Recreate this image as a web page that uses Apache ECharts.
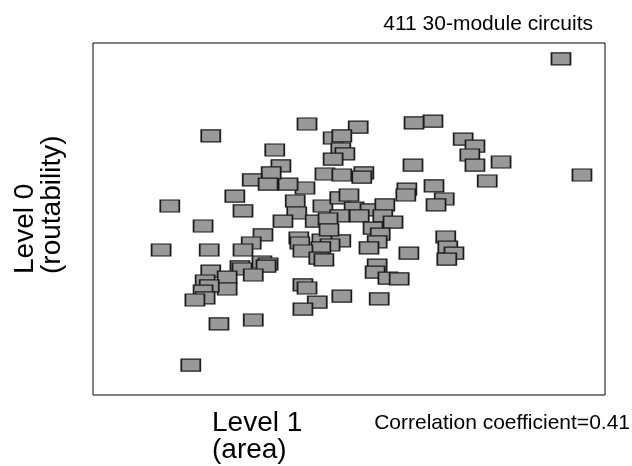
<!DOCTYPE html>
<html lang="en">
<head>
    <meta charset="UTF-8">
    <title>Level 0 vs Level 1</title>
    <script src="https://cdn.jsdelivr.net/npm/echarts@6/dist/echarts.min.js"></script>
    <style>
        *{
            margin:0;
            padding:0;
        }
        html,body{
            height:100%;
            width:100%;
            background:#fff;
        }
        #chart{
            width:632px;
            height:466px;
        }
    </style>
</head>
<body>
    <div id="chart"></div>
    <script>
        // level 1 (area) score of each circuit, 0..100
        var level1=[
            91.4,95.5,79.7,77.0,72.3,74.6,73.6,74.6,66.4,62.7,
            62.5,66.6,68.6,67.0,61.3,61.1,68.9,69.3,70.5,69.1,
            61.7,41.8,51.8,46.9,48.6,48.4,49.2,46.9,45.3,48.6,
            52.9,52.5,41.4,38.1,23.0,35.5,36.7,34.8,31.1,34.2,
            27.7,15.0,29.3,39.5,39.8,37.1,21.5,33.2,30.9,29.3,
            13.3,22.7,44.9,48.2,50.0,51.0,54.1,57.0,48.2,52.0,
            56.6,58.6,43.4,45.9,54.7,56.1,55.5,53.9,48.4,44.7,
            46.3,44.5,40.2,40.4,41.0,44.1,45.1,46.1,55.5,55.1,
            57.6,59.8,41.0,41.8,43.8,41.0,48.6,55.9,23.0,28.7,
            29.1,33.0,34.2,33.8,26.2,31.3,26.2,21.9,22.7,21.5,
            21.9,19.9,24.6,31.3,19.1
        ];
        // level 0 (routability) score of each circuit, 0..100
        var level0=[
            95.5,62.5,66.2,60.8,72.7,70.7,68.2,65.3,77.8,77.3,
            65.3,59.4,55.7,54.0,58.5,56.8,44.9,42.0,40.3,38.6,
            40.3,77.0,76.1,73.0,73.6,69.9,68.5,67.0,62.8,62.5,
            63.1,61.9,58.8,59.9,73.6,69.6,65.1,63.1,61.1,59.9,
            56.5,53.7,52.3,55.1,51.7,49.4,48.0,45.5,43.2,41.2,
            41.2,41.2,53.7,56.0,56.8,53.1,52.6,54.0,50.9,50.9,
            50.9,49.1,49.4,50.0,47.4,45.7,43.5,41.8,43.8,44.0,
            42.6,41.8,44.6,43.2,40.9,38.9,38.4,46.9,36.9,34.9,
            33.2,33.0,31.3,30.4,26.4,24.4,28.1,27.3,35.2,36.4,
            35.8,37.8,37.2,36.6,33.5,34.1,30.1,32.4,31.0,29.5,
            27.6,27.0,20.2,21.3,8.5
        ];
        var titleText="411 30-module circuits";
        var xName="Level 1\n(area)";
        var yName="Level 0\n(routability)";
        var noteText="Correlation coefficient=0.41";

        var points=[];
        for(var i=0;i<level1.length;i++){
            points.push([level1[i],level0[i]]);
        }

        var myChart=echarts.init(document.getElementById("chart"));
        var font='"Liberation Sans", Arial, sans-serif';
        var option={
            animation:false,
            backgroundColor:"#fff",
            grid:{
                left:93,
                top:43,
                right:27,
                bottom:71,
                show:true,
                borderColor:"#000",
                borderWidth:1,
                backgroundColor:"#fff"
            },
            xAxis:{
                type:"value",
                min:0,
                max:100,
                axisLine:{show:false},
                axisTick:{show:false},
                axisLabel:{show:false},
                splitLine:{show:false}
            },
            yAxis:{
                type:"value",
                min:0,
                max:100,
                axisLine:{show:false},
                axisTick:{show:false},
                axisLabel:{show:false},
                splitLine:{show:false}
            },
            series:[
                {
                    type:"scatter",
                    data:points,
                    symbol:"rect",
                    symbolSize:[19,12],
                    itemStyle:{
                        color:"#999999",
                        borderColor:"#1c1c1c",
                        borderWidth:1.4,
                        opacity:1
                    }
                }
            ],
            graphic:[
                {
                    type:"text",
                    right:39,
                    top:14,
                    style:{text:titleText,font:"21px "+font,fill:"#000"}
                },
                {
                    type:"text",
                    left:212,
                    top:409,
                    style:{text:xName,font:"28px "+font,fill:"#000",lineHeight:27}
                },
                {
                    type:"text",
                    x:12,
                    y:274,
                    rotation:Math.PI/2,
                    style:{text:yName,font:"28px "+font,fill:"#000",lineHeight:27,align:"left",verticalAlign:"top"}
                },
                {
                    type:"text",
                    right:2,
                    top:413,
                    style:{text:noteText,font:"21px "+font,fill:"#000"}
                }
            ]
        };
        myChart.setOption(option);
        window.onresize=myChart.resize;
    </script>
</body>
</html>
